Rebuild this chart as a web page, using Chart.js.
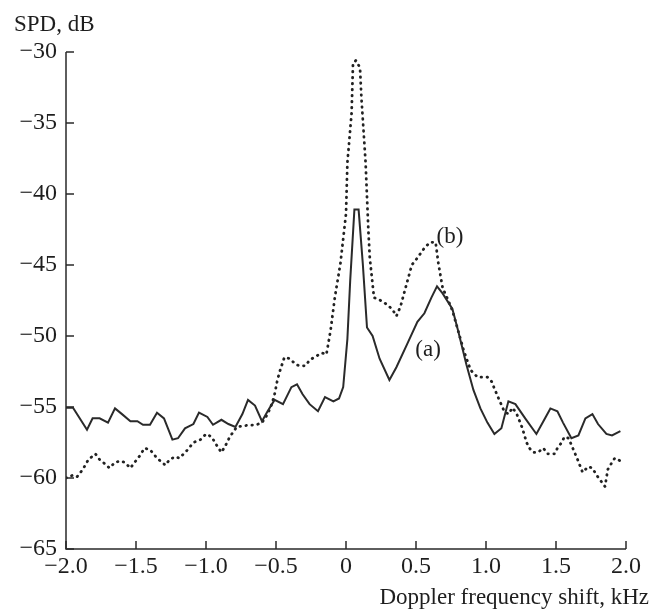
<!DOCTYPE html>
<html><head><meta charset="utf-8">
<script src="https://cdn.jsdelivr.net/npm/chart.js@4/dist/chart.umd.min.js"></script>
<style>html,body{margin:0;padding:0;background:#fff}canvas{display:block}</style>
</head><body>
<canvas id="c" width="652" height="612"></canvas>
<script>
// Curve (a): solid
const freqA = [-2.0,-1.95,-1.85,-1.81,-1.76,-1.70,-1.65,-1.60,-1.54,-1.49,-1.45,-1.40,-1.35,-1.30,-1.24,-1.20,-1.15,-1.09,-1.05,-0.99,-0.95,-0.89,-0.84,-0.79,-0.74,-0.70,-0.65,-0.60,-0.56,-0.51,-0.45,-0.39,-0.35,-0.31,-0.26,-0.20,-0.15,-0.09,-0.05,-0.02,0.01,0.03,0.06,0.09,0.12,0.15,0.19,0.24,0.31,0.36,0.44,0.51,0.56,0.61,0.65,0.69,0.76,0.80,0.86,0.91,0.96,1.01,1.06,1.11,1.16,1.21,1.28,1.36,1.41,1.46,1.51,1.55,1.61,1.66,1.71,1.76,1.80,1.86,1.90,1.96];
const spdA  = [-55.05,-55.05,-56.6,-55.8,-55.8,-56.1,-55.1,-55.5,-56.0,-56.0,-56.25,-56.25,-55.4,-55.8,-57.3,-57.2,-56.5,-56.2,-55.4,-55.7,-56.25,-55.9,-56.2,-56.4,-55.5,-54.5,-54.9,-56.0,-55.3,-54.5,-54.8,-53.6,-53.4,-54.1,-54.8,-55.3,-54.3,-54.6,-54.4,-53.6,-50.2,-46.1,-41.1,-41.1,-44.9,-49.4,-50.0,-51.6,-53.1,-52.2,-50.5,-49.0,-48.4,-47.3,-46.5,-47.0,-48.1,-49.6,-52.0,-53.8,-55.1,-56.1,-56.9,-56.5,-54.6,-54.8,-55.8,-56.9,-56.0,-55.1,-55.3,-56.1,-57.2,-57.0,-55.8,-55.5,-56.2,-56.9,-57.0,-56.7];
// Curve (b): dotted
const freqB = [-2.0,-1.95,-1.92,-1.88,-1.84,-1.79,-1.76,-1.71,-1.69,-1.65,-1.61,-1.58,-1.54,-1.51,-1.47,-1.44,-1.40,-1.35,-1.29,-1.26,-1.22,-1.19,-1.13,-1.09,-1.04,-1.00,-0.96,-0.93,-0.89,-0.86,-0.83,-0.78,-0.71,-0.64,-0.60,-0.56,-0.53,-0.51,-0.49,-0.47,-0.44,-0.40,-0.36,-0.33,-0.29,-0.26,-0.21,-0.17,-0.14,-0.11,-0.08,-0.04,0.0,0.01,0.04,0.05,0.07,0.10,0.11,0.14,0.16,0.17,0.20,0.23,0.28,0.33,0.36,0.39,0.42,0.47,0.51,0.56,0.60,0.64,0.66,0.69,0.73,0.76,0.80,0.84,0.89,0.94,1.01,1.04,1.06,1.09,1.13,1.16,1.19,1.22,1.26,1.29,1.31,1.34,1.37,1.41,1.44,1.49,1.51,1.54,1.56,1.59,1.62,1.65,1.67,1.69,1.73,1.76,1.79,1.82,1.85,1.87,1.90,1.92,1.96];
const spdB  = [-60.0,-59.8,-59.9,-59.4,-58.7,-58.3,-58.7,-59.1,-59.3,-58.9,-58.8,-58.9,-59.3,-58.9,-58.4,-57.9,-58.0,-58.6,-59.1,-58.7,-58.5,-58.6,-58.0,-57.5,-57.3,-56.9,-57.1,-57.6,-58.2,-57.7,-57.1,-56.4,-56.3,-56.25,-56.1,-55.5,-54.8,-54.1,-53.1,-52.4,-51.5,-51.6,-52.0,-52.1,-52.1,-51.7,-51.4,-51.2,-51.3,-49.6,-47.3,-44.9,-41.4,-37.8,-34.3,-30.8,-30.6,-31.1,-33.2,-37.8,-42.6,-44.5,-47.3,-47.4,-47.7,-48.1,-48.6,-47.9,-46.8,-45.0,-44.5,-43.8,-43.4,-43.4,-44.9,-46.6,-47.5,-48.2,-49.6,-51.0,-52.4,-52.9,-52.9,-53.2,-53.7,-54.4,-55.3,-55.5,-55.05,-55.5,-56.5,-57.5,-57.9,-58.2,-58.2,-57.9,-58.3,-58.3,-57.9,-57.5,-57.1,-57.2,-57.9,-58.6,-59.1,-59.6,-59.2,-59.3,-59.8,-60.2,-60.6,-59.4,-58.9,-58.6,-58.8];

const xTicks = [-2.0,-1.5,-1.0,-0.5,0,0.5,1.0,1.5,2.0];
const yTicks = [-65,-60,-55,-50,-45,-40,-35,-30];
const curveLabels = ['(a)','(b)'];
const labelFreq = [0.586, 0.743];
const labelSpd = [-50.96, -42.99];
const yTitle = 'SPD, dB';
const xTitle = 'Doppler frequency shift, kHz';

const FONT = "'Liberation Serif', 'Times New Roman', serif";
const INK = '#1e1e1e';
const minus = s => String(s).replace('-', '\u2212');

const toPts = (xs, ys) => xs.map((x, i) => ({x: x, y: ys[i]}));

const axisPlugin = {
  id: 'axisDecor',
  afterDraw(chart) {
    const ctx = chart.ctx;
    const xs = chart.scales.x, ys = chart.scales.y;
    const a = chart.chartArea;
    ctx.save();
    ctx.strokeStyle = '#2a2a2a';
    ctx.lineWidth = 1.5;
    ctx.beginPath();
    ctx.moveTo(a.left, a.top);
    ctx.lineTo(a.left, a.bottom);
    ctx.lineTo(a.right, a.bottom);
    ctx.stroke();
    const tl = 8;
    ctx.beginPath();
    yTicks.forEach(v => { const p = ys.getPixelForValue(v); ctx.moveTo(a.left, p); ctx.lineTo(a.left + tl, p); });
    xTicks.forEach(v => { const p = xs.getPixelForValue(v); ctx.moveTo(p, a.bottom); ctx.lineTo(p, a.bottom - tl); });
    ctx.stroke();
    ctx.fillStyle = INK;
    ctx.font = '23px ' + FONT;
    ctx.textAlign = 'left';
    ctx.textBaseline = 'alphabetic';
    ctx.fillText(yTitle, 14, 31);
    ctx.textAlign = 'right';
    ctx.fillText(xTitle, 649, 604);
    ctx.textAlign = 'center';
    ctx.textBaseline = 'middle';
    curveLabels.forEach((t, i) => {
      ctx.fillText(t, xs.getPixelForValue(labelFreq[i]), ys.getPixelForValue(labelSpd[i]));
    });
    ctx.restore();
  }
};

new Chart(document.getElementById('c'), {
  type: 'scatter',
  data: {
    datasets: [
      { label: '(a)', data: toPts(freqA, spdA), showLine: true, borderColor: '#2a2a2a', borderWidth: 2, pointRadius: 0, tension: 0, fill: false },
      { label: '(b)', data: toPts(freqB, spdB), showLine: true, borderColor: '#222', borderWidth: 2.8, borderDash: [0.5, 5.5], borderCapStyle: 'round', pointRadius: 0, tension: 0, fill: false }
    ]
  },
  options: {
    responsive: false,
    animation: false,
    devicePixelRatio: 1,
    layout: { padding: { top: 52, right: 26, left: 0, bottom: 0 } },
    plugins: { legend: { display: false }, tooltip: { enabled: false }, title: { display: false } },
    scales: {
      x: {
        type: 'linear', min: -2, max: 2,
        afterBuildTicks: s => { s.ticks = xTicks.map(v => ({value: v})); },
        afterFit: s => { s.height = 63; },
        grid: { display: false, drawTicks: false },
        border: { display: false },
        ticks: { padding: 3, maxRotation: 0, autoSkip: false, color: INK, font: { family: FONT, size: 24 },
          callback: v => v === 0 ? '0' : minus(Number(v).toFixed(1)) }
      },
      y: {
        type: 'linear', min: -65, max: -30,
        afterBuildTicks: s => { s.ticks = yTicks.map(v => ({value: v})); },
        afterFit: s => { s.width = 66; },
        grid: { display: false, drawTicks: false },
        border: { display: false },
        ticks: { padding: 9, autoSkip: false, color: INK, font: { family: FONT, size: 24 },
          callback: v => minus(v) }
      }
    }
  },
  plugins: [axisPlugin]
});
</script>
</body></html>
